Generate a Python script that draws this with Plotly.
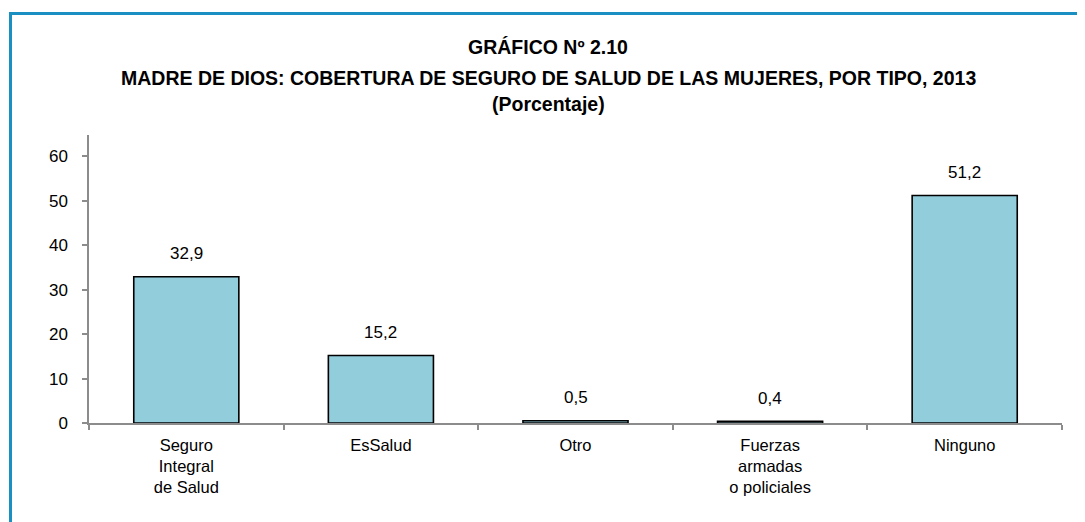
import plotly.graph_objects as go

categories = ["Seguro<br>Integral<br>de Salud", "EsSalud", "Otro", "Fuerzas<br>armadas<br>o policiales", "Ninguno"]
values = [32.9, 15.2, 0.5, 0.4, 51.2]
value_labels = ["32,9", "15,2", "0,5", "0,4", "51,2"]
ytick_vals = [0, 10, 20, 30, 40, 50, 60]
title_lines = ["GRÁFICO Nº 2.10",
               "MADRE DE DIOS: COBERTURA DE SEGURO DE SALUD DE LAS MUJERES, POR TIPO, 2013",
               "(Porcentaje)"]

FONT = "Liberation Sans, Arial, sans-serif"
W, H = 1085, 522
OFF = 8  # page body margin offset
# target page pixels: plot area x 89..1062, y 135..423
L, T = 89 - OFF, 135 - OFF
R, B = W - (1062 - OFF), H - (423 - OFF)
PW, PH = W - L - R, H - T - B


def px_x(p):
    return (p - OFF - L) / PW


def px_y(p):
    return (H - B - (p - OFF)) / PH


fig = go.Figure()
fig.add_trace(go.Bar(
    x=categories, y=values, width=0.54,
    marker=dict(color="#92CDDC", line=dict(color="#000000", width=1.6)),
    hoverinfo="skip",
))

for c, v, t in zip(categories, values, value_labels):
    fig.add_annotation(x=c, y=v, text=t, showarrow=False, yshift=23,
                       font=dict(family=FONT, size=17, color="#000"))

for line, yc in zip(title_lines, [47, 78, 104]):
    fig.add_annotation(xref="paper", yref="paper", x=px_x(548), y=px_y(yc),
                       xanchor="center", yanchor="middle", text="<b>" + line + "</b>",
                       showarrow=False, font=dict(family=FONT, size=19.5, color="#000"))

frame = dict(color="#1A8FC1", width=3)
fig.add_shape(type="line", xref="paper", yref="paper",
              x0=px_x(10.5), x1=px_x(W + 20), y0=px_y(13.5), y1=px_y(13.5), line=frame)
fig.add_shape(type="line", xref="paper", yref="paper",
              x0=px_x(10.5), x1=px_x(10.5), y0=px_y(12), y1=px_y(H + 20), line=frame)

fig.update_layout(
    width=W, height=H,
    margin=dict(l=L, r=R, t=T, b=B),
    paper_bgcolor="white", plot_bgcolor="white",
    showlegend=False,
    font=dict(family=FONT, size=16, color="#000"),
    xaxis=dict(showline=True, linecolor="#8C8C8C", linewidth=1.5, ticks="outside",
               tickson="boundaries", tickcolor="#8C8C8C", ticklen=5, tickwidth=1.5,
               tickfont=dict(family=FONT, size=16.5), showgrid=False, ticklabelstandoff=6),
    yaxis=dict(range=[0, 64.8], tickvals=ytick_vals, showline=True, linecolor="#8C8C8C",
               linewidth=1.5, ticks="outside", tickcolor="#8C8C8C", ticklen=5, tickwidth=1.5,
               showgrid=False, zeroline=False, tickfont=dict(family=FONT, size=17),
               ticklabelstandoff=11),
)

fig.write_html("out.html")
